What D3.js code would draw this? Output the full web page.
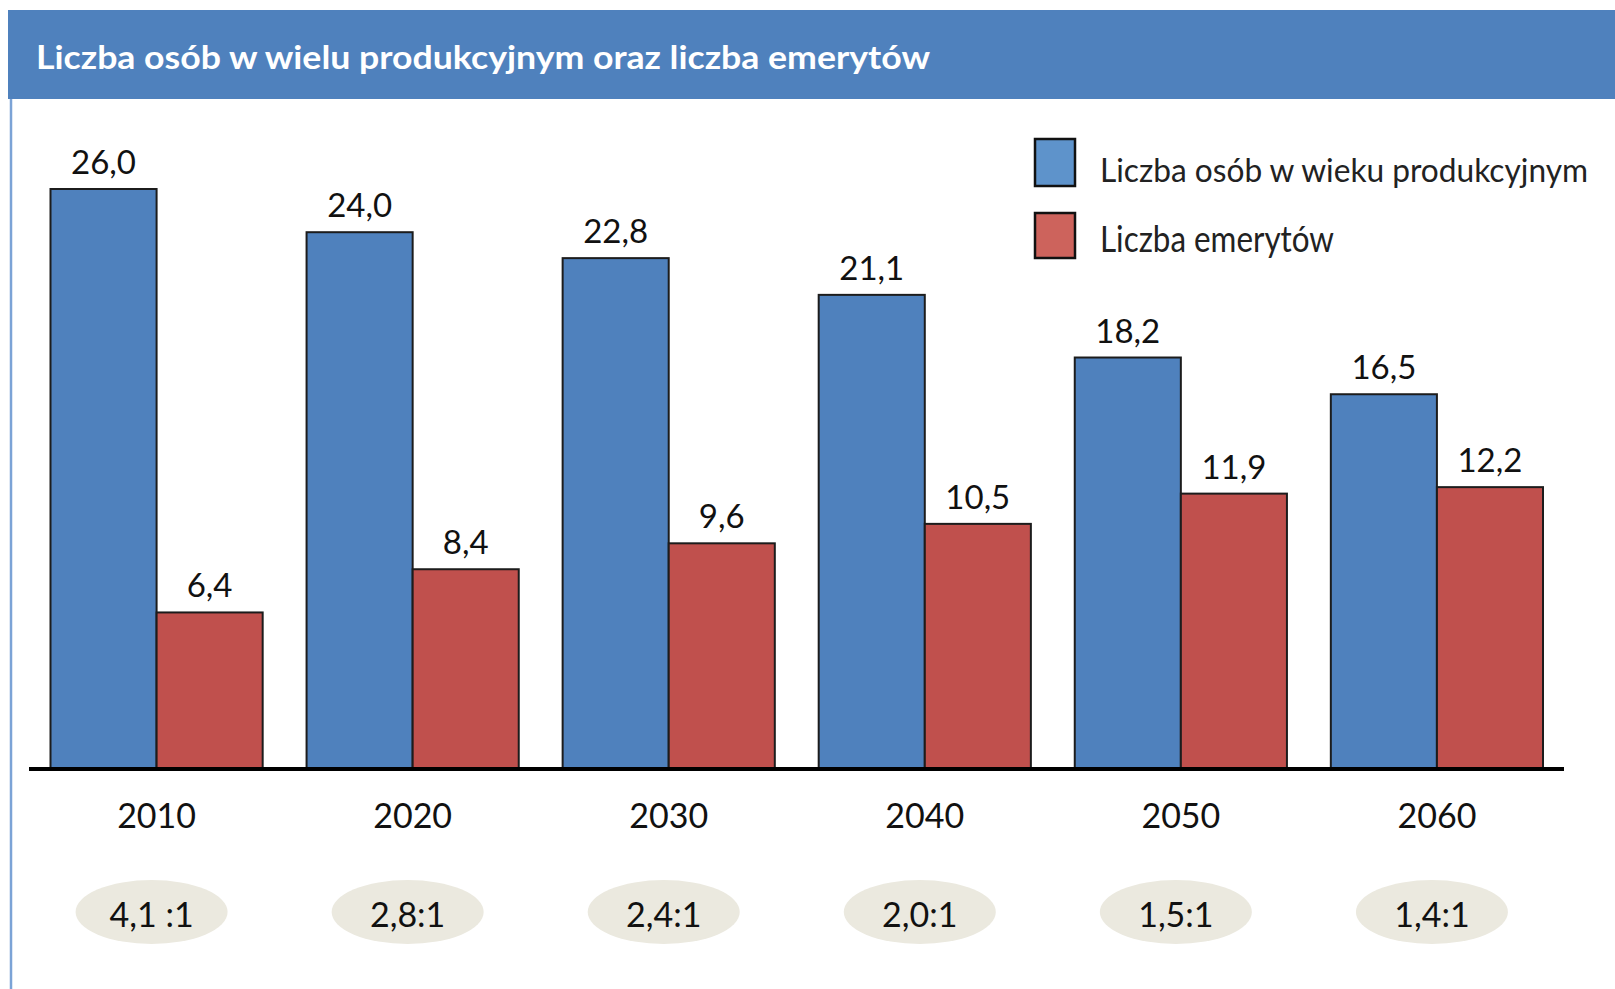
<!DOCTYPE html>
<html>
<head>
<meta charset="utf-8">
<script src="https://cdn.jsdelivr.net/npm/d3@7"></script>
<style>
  html, body { margin: 0; padding: 0; background: #ffffff; }
  svg { display: block; }
  text { font-family: Lato, "Open Sans", sans-serif; }
</style>
</head>
<body>
<svg id="chart" width="1615" height="989"></svg>
<script>
// ---- data ----
const title = "Liczba osób w wielu produkcyjnym oraz liczba emerytów";
const years = ["2010", "2020", "2030", "2040", "2050", "2060"];
const seriesNames = ["Liczba osób w wieku produkcyjnym", "Liczba emerytów"];
const workingAge = [26.0, 24.0, 22.8, 21.1, 18.2, 16.5];
const retirees = [6.4, 8.4, 9.6, 10.5, 11.9, 12.2];
const ratios = ["4,1 :1", "2,8:1", "2,4:1", "2,0:1", "1,5:1", "1,4:1"];

// ---- styles ----
const barColors = ["#4F81BD", "#C0504D"];
const legendColors = ["#5E93CB", "#CD635C"];
const fmt = v => v.toFixed(1).replace(".", ",");

const svg = d3.select("#chart");

// fit a text: shrink font so its natural width stays within maxW, then stretch to target width
function fitText(sel, baseSize, targetW, maxW) {
  sel.each(function (d, i) {
    const t = d3.select(this);
    t.attr("font-size", baseSize);
    const w = this.getComputedTextLength();
    const tw = typeof targetW === "function" ? targetW(d, i) : targetW;
    const mw = typeof maxW === "function" ? maxW(d, i) : maxW;
    let fs = baseSize;
    if (w > mw) fs = baseSize * mw / w;
    t.attr("font-size", fs);
    const w2 = this.getComputedTextLength();
    if (Math.abs(w2 - tw) > 2) t.attr("textLength", tw).attr("lengthAdjust", "spacingAndGlyphs");
  });
}

// header
svg.append("rect").attr("x", 8).attr("y", 10).attr("width", 1615 - 8).attr("height", 89)
  .attr("fill", "#4F81BD");
svg.append("line").attr("x1", 11).attr("x2", 11).attr("y1", 99).attr("y2", 989)
  .attr("stroke", "#7BA3D6").attr("stroke-width", 2.5);
svg.append("text").attr("x", 36).attr("y", 69)
  .attr("fill", "#ffffff").attr("font-weight", 700)
  .text(title)
  .call(fitText, 32, 894, 920);

// scales
const x0 = d3.scaleBand().domain(years).range([50.5, 1543]).paddingInner(0.1714).paddingOuter(0);
const x1 = d3.scaleBand().domain(seriesNames).range([0, x0.bandwidth()]);
const y = d3.scaleLinear().domain([-0.8, 26]).range([768, 189]);

const rows = years.map((yr, i) => ({
  year: yr,
  ratio: ratios[i],
  vals: [
    { s: seriesNames[0], v: workingAge[i], c: barColors[0] },
    { s: seriesNames[1], v: retirees[i], c: barColors[1] }
  ]
}));

const g = svg.append("g");
const groups = g.selectAll("g.grp").data(rows).join("g")
  .attr("class", "grp")
  .attr("transform", d => `translate(${x0(d.year)},0)`);

groups.selectAll("rect.bar").data(d => d.vals).join("rect")
  .attr("class", "bar")
  .attr("x", d => x1(d.s))
  .attr("width", x1.bandwidth())
  .attr("y", d => y(d.v))
  .attr("height", d => y(-0.8) - y(d.v))
  .attr("fill", d => d.c)
  .attr("stroke", "#1c1c1c").attr("stroke-width", 2);

groups.selectAll("text.val").data(d => d.vals).join("text")
  .attr("class", "val")
  .attr("x", d => x1(d.s) + x1.bandwidth() / 2)
  .attr("y", d => y(d.v) - 15)
  .attr("text-anchor", "middle")
  .attr("font-size", 33).attr("fill", "#111")
  .text(d => fmt(d.v));

// axis baseline
const xAxis = d3.axisBottom(x0).tickSize(0).tickPadding(0);
const axG = svg.append("g").attr("transform", "translate(0,769)").call(xAxis);
axG.select(".domain").remove();
axG.append("line").attr("x1", 29).attr("x2", 1564).attr("y1", 0).attr("y2", 0)
  .attr("stroke", "#000").attr("stroke-width", 4);
axG.selectAll(".tick text")
  .attr("y", 59).attr("dy", null)
  .attr("font-size", 34).attr("fill", "#111")
  .attr("font-family", "Lato, 'Open Sans', sans-serif");

// ratio ellipses
const ell = svg.append("g").selectAll("g").data(rows).join("g")
  .attr("transform", d => `translate(${x0(d.year) + x0.bandwidth() / 2 - 5},912)`);
ell.append("ellipse").attr("rx", 76).attr("ry", 32).attr("fill", "#EBE9DF");
ell.append("text").attr("y", 15).attr("text-anchor", "middle")
  .attr("font-size", 34).attr("fill", "#111")
  .text(d => d.ratio);

// legend
const legY = [139, 213];
const legH = [47, 45];
const legTextY = [182, 252];
const legW = [488, 234];
const leg = svg.append("g").selectAll("g").data(seriesNames).join("g");
leg.append("rect").attr("x", 1035).attr("y", (d, i) => legY[i])
  .attr("width", 40).attr("height", (d, i) => legH[i])
  .attr("fill", (d, i) => legendColors[i])
  .attr("stroke", "#111").attr("stroke-width", 2.5);
leg.append("text").attr("x", 1100).attr("y", (d, i) => legTextY[i])
  .attr("fill", "#222")
  .text(d => d)
  .call(fitText, 37, (d, i) => legW[i], 505);
</script>
</body>
</html>
